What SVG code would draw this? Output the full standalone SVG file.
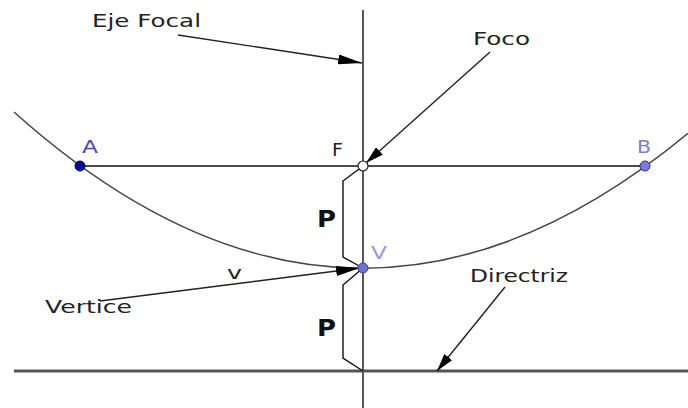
<svg xmlns="http://www.w3.org/2000/svg" width="688" height="408" viewBox="0 0 688 408">
<style>
.lbl{font-family:"DejaVu Sans","Verdana",sans-serif;font-size:18px;fill:#222}
.p{font-family:"DejaVu Sans",sans-serif;font-size:23px;font-weight:bold;fill:#111}
.ln{stroke:#111;stroke-width:1.4;fill:none}
.arr{stroke:#222;stroke-width:1.4;fill:none}
</style>
<defs>
<marker id="big" markerUnits="userSpaceOnUse" markerWidth="24" markerHeight="10" refX="24" refY="5" orient="auto"><path d="M0,0 L24,5 L0,10 Z" fill="#000"/></marker>
<marker id="small" markerUnits="userSpaceOnUse" markerWidth="18" markerHeight="10" refX="18" refY="5" orient="auto"><path d="M0,0 L18,5 L0,10 Z" fill="#000"/></marker>
</defs>
<rect width="688" height="408" fill="#fff"/>
<g id="curves">
<path d="M14,112 Q350,413.3 688,133.4" stroke="#444" stroke-width="1.5" fill="none"/>
<line x1="363" y1="10" x2="363" y2="408" class="ln" stroke-width="1.6"/>
<line x1="80" y1="166" x2="645" y2="166" class="ln" stroke-width="1.6"/>
<line x1="14" y1="371" x2="688" y2="371" stroke="#555" stroke-width="3"/>
<polyline points="363,166 343,181 343,257 363,268" class="ln"/>
<polyline points="363,268 343,285 343,358 363,371" class="ln"/>
</g>
<g id="connectors">
<line x1="178" y1="35" x2="362" y2="63" class="arr" marker-end="url(#big)"/>
<line x1="490" y1="52" x2="366" y2="163" class="arr" marker-end="url(#small)"/>
<line x1="100" y1="301" x2="360" y2="268" class="arr" marker-end="url(#big)"/>
<line x1="505" y1="287" x2="437" y2="371" class="arr" marker-end="url(#small)"/>
</g>
<g id="eje-focal"><text class="lbl" x="92" y="27" textLength="109" lengthAdjust="spacingAndGlyphs">Eje Focal</text></g>
<g id="foco-label"><text class="lbl" x="473" y="45" textLength="57" lengthAdjust="spacingAndGlyphs">Foco</text></g>
<g id="vertice-label"><text class="lbl" x="45" y="313" textLength="87" lengthAdjust="spacingAndGlyphs">Vertice</text></g>
<g id="directriz-label"><text class="lbl" x="470" y="282" textLength="98" lengthAdjust="spacingAndGlyphs">Directriz</text></g>
<g id="A"><circle cx="80" cy="166" r="5" fill="#0a0a9a" stroke="#00006a" stroke-width="1"/><text class="lbl" x="82" y="153" textLength="16" lengthAdjust="spacingAndGlyphs" style="fill:#4a4aa8">A</text></g>
<g id="B"><circle cx="645" cy="166" r="5" fill="#7a7ae0" stroke="#303078" stroke-width="1"/><text class="lbl" x="637" y="153" textLength="14" lengthAdjust="spacingAndGlyphs" style="fill:#8080c4">B</text></g>
<g id="F"><circle cx="363" cy="166" r="5" fill="#fff" stroke="#222" stroke-width="1.2"/><text class="lbl" x="332" y="156" textLength="11" lengthAdjust="spacingAndGlyphs">F</text></g>
<g id="V"><circle cx="363" cy="268" r="5" fill="#7070d8" stroke="#404090" stroke-width="1"/><text class="lbl" x="371" y="259" textLength="16" lengthAdjust="spacingAndGlyphs" style="fill:#9a9ad8">V</text></g>
<g id="v-label"><text class="lbl" x="227" y="279" textLength="15" lengthAdjust="spacingAndGlyphs">v</text></g>
<g id="P1"><text class="p" x="317" y="227" textLength="19" lengthAdjust="spacingAndGlyphs">P</text></g>
<g id="P2"><text class="p" x="317" y="336" textLength="19" lengthAdjust="spacingAndGlyphs">P</text></g>
</svg>
